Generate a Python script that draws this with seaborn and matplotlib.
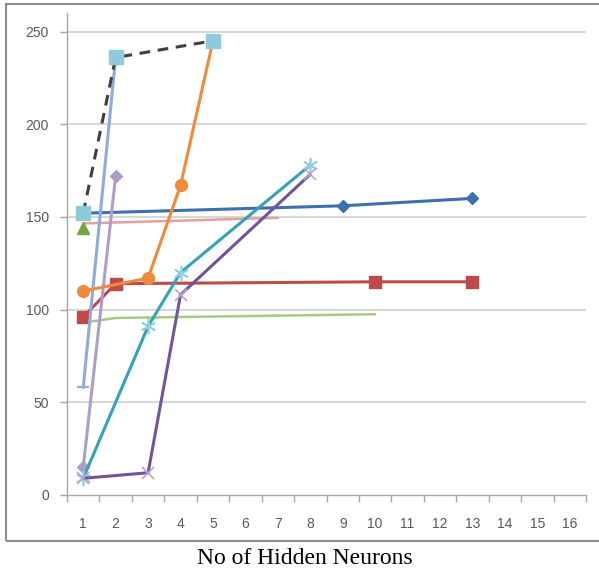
import matplotlib
matplotlib.use("Agg")
import matplotlib.pyplot as plt
from matplotlib.patches import Rectangle
import seaborn as sns
import pandas as pd

# Number of hidden neurons (category positions) and measured values per series
blue_x = [1, 9, 13]
blue_y = [152, 156, 160]

red_x = [1, 2, 10, 13]
red_y = [96, 114, 115, 115]

green_pt_x = [1]
green_pt_y = [144]

green_x = [1, 2, 10]
green_y = [93, 95.5, 97.5]

pink_x = [1, 7]
pink_y = [146.5, 149.5]

sky_x = [1, 2, 5]
sky_y = [152, 236, 245]

peri_x = [1, 2]
peri_y = [58, 236]

lavender_x = [1, 2]
lavender_y = [15, 172]

orange_x = [1, 3, 4, 5]
orange_y = [110, 117, 167, 245]

teal_x = [1, 3, 4, 8]
teal_y = [9, 91, 120, 178]

purple_x = [1, 3, 4, 8]
purple_y = [9, 12, 108, 173]

x_categories = list(range(1, 17))
y_ticks = [0, 50, 100, 150, 200, 250]

sns.set_theme(style="white")
plt.rcParams["font.family"] = ["Liberation Sans", "DejaVu Sans"]

fig = plt.figure(figsize=(5.99, 5.71), dpi=100)
ax = fig.add_axes([67 / 599, 1 - 495 / 571, (586 - 67) / 599, (495 - 13) / 571])

# outer chart frame
fig.patches.append(Rectangle((6 / 599, 1 - 541 / 571), 600 / 599, (541 - 4) / 571,
                             transform=fig.transFigure, fill=False,
                             edgecolor="#8C8C8C", linewidth=1.5, zorder=0))


def draw(xs, ys, color, marker=None, ms=7, lw=2.2, ls="-", mfc=None, mec=None,
         mew=1.0, z=2):
    df = pd.DataFrame({"x": xs, "y": ys})
    sns.lineplot(data=df, x="x", y="y", ax=ax, color=color, linewidth=lw,
                 linestyle=ls, marker=marker, markersize=ms,
                 markerfacecolor=mfc if mfc else color,
                 markeredgecolor=mec if mec else color, markeredgewidth=mew,
                 estimator=None, sort=False, zorder=z)


draw(green_x, green_y, "#A8C87E", lw=1.8)
draw(pink_x, pink_y, "#E3A09E", lw=1.8)
draw(red_x, red_y, "#BE4B48", marker="s", ms=8.5)
draw(blue_x, blue_y, "#3E6FB0", marker="D", ms=6.5)
draw(peri_x, peri_y, "#8FAADC", marker="_", ms=9, mew=1.5)
draw(lavender_x, lavender_y, "#AE9DC9", marker="D", ms=6.5)
draw(orange_x, orange_y, "#F0893A", marker="o", ms=8.5)
draw(teal_x, teal_y, "#33A3B8", marker=(6, 2, 0), ms=11, mec="#8FD0DF", mew=1.2)
draw(purple_x, purple_y, "#71559C", marker="x", ms=9, mec="#B8A6CF", mew=1.2)
draw(green_pt_x, green_pt_y, "#77A33E", marker="^", ms=9)
draw(sky_x, sky_y, "#404040", marker="s", ms=9.5, ls=(0, (3.5, 2.5)),
     mfc="#8FCADB", mec="#8FCADB", z=3)

ax.set_xlim(0.5, 16.5)
ax.set_ylim(0, 260)
ax.set_xticks(x_categories)
ax.set_xticklabels([str(c) for c in x_categories])
ax.set_xticks([c + 0.5 for c in [0] + x_categories], minor=True)
ax.set_yticks(y_ticks)
ax.set_yticklabels([str(v) for v in y_ticks])

ax.tick_params(axis="x", which="major", length=0, pad=16, labelsize=10,
               labelcolor="#595959")
ax.tick_params(axis="x", which="minor", length=5, width=1, color="#A6A6A6",
               direction="out", bottom=True)
ax.tick_params(axis="y", which="major", length=5, width=1, color="#A6A6A6",
               direction="out", left=True, pad=8, labelsize=10,
               labelcolor="#595959")

for v in y_ticks[1:]:
    ax.axhline(v, color="#D0D0D0", linewidth=1.2, zorder=0)

for side in ["top", "right"]:
    ax.spines[side].set_visible(False)
for side in ["left", "bottom"]:
    ax.spines[side].set_color("#A6A6A6")
    ax.spines[side].set_linewidth(1.0)

ax.set_xlabel("")
ax.set_ylabel("")
ax.patch.set_alpha(0)

fig.text(305 / 599, 1 - 559 / 571, "No of Hidden Neurons", ha="center",
         va="center", fontsize=17, family=["Liberation Serif", "DejaVu Serif"],
         color="black")

fig.savefig("out.png", dpi=100)
